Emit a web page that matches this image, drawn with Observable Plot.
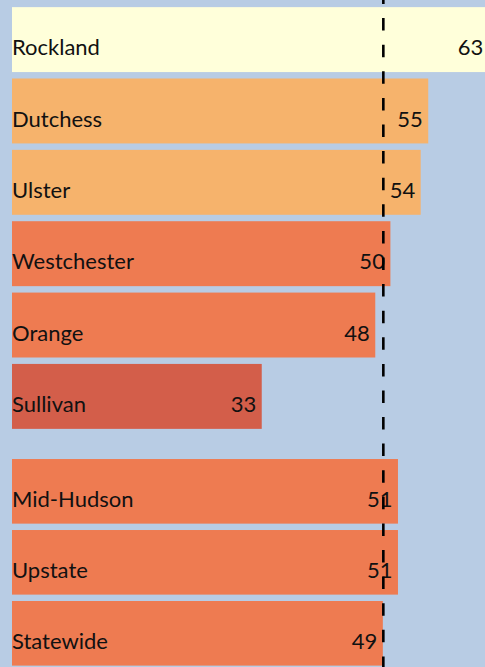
<!DOCTYPE html>
<html>
<head>
<meta charset="utf-8">
<script src="https://cdn.jsdelivr.net/npm/d3@7"></script>
<script src="https://cdn.jsdelivr.net/npm/@observablehq/plot@0.6"></script>
<style>
  html, body { margin: 0; padding: 0; background: #b8cce4; overflow: hidden; }
  svg { display: block; }
</style>
</head>
<body>
<div id="chart"></div>
<script>
// County-level values
const counties = ["Rockland", "Dutchess", "Ulster", "Westchester", "Orange", "Sullivan"];
const countyValues = [63, 55, 54, 50, 48, 33];
// Regional comparison values
const regions = ["Mid-Hudson", "Upstate", "Statewide"];
const regionValues = [51, 51, 49];
// Reference line (statewide)
const referenceValue = 49;
// Colour bins
const colorThresholds = [40, 52, 60];
const colorRange = ["#d35e4a", "#ee7b51", "#f6b36c", "#ffffda"];

const PERIOD = 26.6;

function group(names, values, opts) {
  const data = names.map((name, i) => ({name, value: values[i]}));
  return Plot.plot({
    width: 485,
    height: opts.height,
    marginTop: 0,
    marginBottom: 0,
    marginLeft: 12,
    marginRight: 0,
    style: {background: "transparent", fontFamily: "Lato, 'Open Sans', sans-serif", fontSize: "22px", color: "#000"},
    x: {domain: [0, 62.5], axis: null},
    y: {domain: names, axis: null, round: false, paddingInner: 0.09, paddingOuter: opts.paddingOuter, align: opts.align},
    color: {type: "threshold", domain: colorThresholds, range: colorRange},
    marks: [
      Plot.barX(data, {x: "value", y: "name", fill: "value"}),
      Plot.text(data, {x: 0, y: "name", text: "name", textAnchor: "start", dx: -0.5, dy: 8, fill: "#111"}),
      Plot.text(data, {x: "value", y: "name", text: d => String(d.value), textAnchor: "end", dx: -6, dy: 8, fill: "#111"}),
      Plot.ruleX([referenceValue], {stroke: "#000", strokeWidth: 2.6, strokeDasharray: "12.5,14.1", strokeDashoffset: opts.dashOffset})
    ]
  });
}

const el = document.getElementById("chart");
el.appendChild(group(counties, countyValues, {height: 436, paddingOuter: 0.1, align: 0.5, dashOffset: 8.5}));
el.appendChild(group(regions, regionValues, {height: 231, paddingOuter: 0.172, align: 0.943, dashOffset: ((436 - 18) % PERIOD + PERIOD) % PERIOD}));
</script>
</body>
</html>
